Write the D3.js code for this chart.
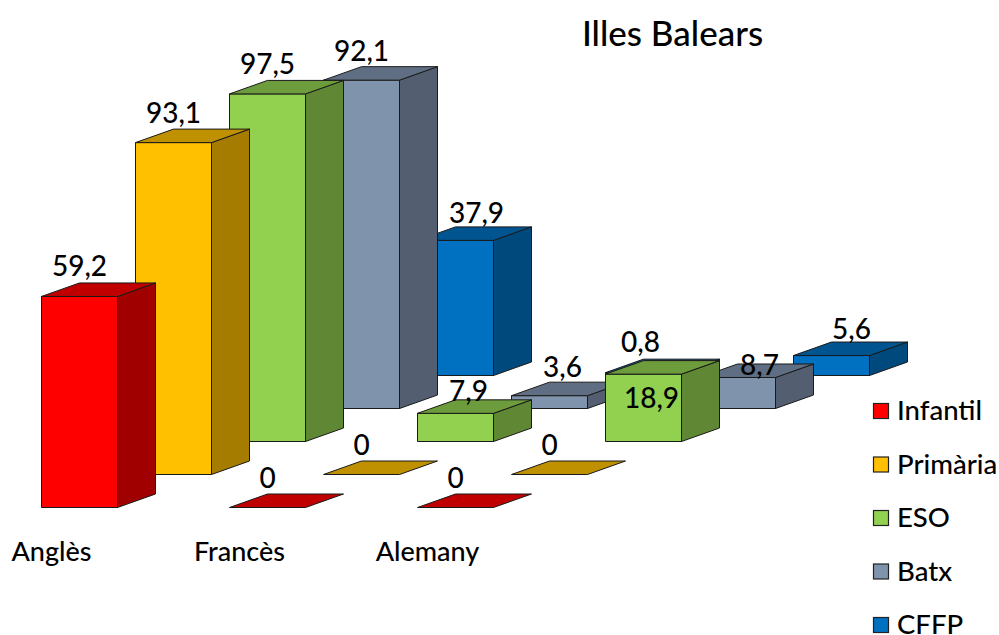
<!DOCTYPE html>
<html><head><meta charset="utf-8">
<script src="https://cdn.jsdelivr.net/npm/d3@7/dist/d3.min.js"></script>
<style>html,body{margin:0;padding:0;background:#fff}svg{display:block}text{font-family:Lato,"Noto Sans",sans-serif;fill:#000;font-weight:500}</style>
</head><body><svg id="c" width="999" height="635"></svg>
<script>
const categories = ["Anglès","Francès","Alemany"];
const seriesNames = ["Infantil","Primària","ESO","Batx","CFFP"];
const infantil = [59.2, 0, 0];
const primaria = [93.1, 0, 0];
const eso = [97.5, 7.9, 18.9];
const batx = [92.1, 3.6, 8.7];
const cffp = [37.9, 0.8, 5.6];
const seriesValues = [infantil, primaria, eso, batx, cffp];
const frontColors = ["#FF0000","#FFC000","#92D050","#8093AD","#0070C0"];
const topColors   = ["#C00000","#BF9000","#6D9C3C","#5F6E82","#005490"];
const sideColors  = ["#A00000","#A67C00","#5F8734","#535F71","#00497D"];

const svg = d3.select("#c");
const catX = d3.scalePoint().domain(categories).range([41.5,417.5]);
const serX = d3.scalePoint().domain(seriesNames).range([0,376]);
const serY = d3.scalePoint().domain(seriesNames).range([507.5,375.5]);
const h = d3.scaleLinear().domain([0,100]).range([0,356.5]);
const W = 76, DX = 38, DY = 13.5;
const fmt = v => String(v).replace(".",",");
const nudge = { // manual label placement [dx, dy] as in the source chart
  "Batx|Anglès":[0,1], "CFFP|Anglès":[21,2.5], "Batx|Francès":[13,1.5], "CFFP|Francès":[-3,-0.5],
  "ESO|Alemany":[8,54], "Batx|Alemany":[22,17.5], "CFFP|Alemany":[20,3.5], "ESO|Francès":[13,7.5]
};
const bars = [];
seriesNames.forEach((s,i)=>categories.forEach((c,j)=>{
  bars.push({s,c,i,v:seriesValues[i][j],x:catX(c)+serX(s),y0:serY(s)});
}));
const ordered = bars.slice().sort((a,b)=>d3.descending(a.i,b.i));
const pts = a => a.map(p=>p.join(",")).join(" ");
const g = svg.append("g").attr("stroke-linejoin","round");
ordered.forEach(b=>{
  const t = b.y0 - h(b.v), x=b.x, r=x+W;
  const bg = g.append("g").attr("stroke","#1a1a1a").attr("stroke-width",1);
  if(b.v>0){
    bg.append("rect").attr("x",x).attr("y",t).attr("width",W).attr("height",h(b.v)).attr("fill",frontColors[b.i]);
    bg.append("polygon").attr("points",pts([[r,t],[r+DX,t-DY],[r+DX,b.y0-DY],[r,b.y0]])).attr("fill",sideColors[b.i]);
  }
  bg.append("polygon").attr("points",pts([[x,t],[x+DX,t-DY],[r+DX,t-DY],[r,t]])).attr("fill",topColors[b.i]);
});
svg.append("g").selectAll("text").data(bars).join("text")
  .attr("text-anchor","middle").attr("font-size",28)
  .attr("x",b=>b.x+W/2+(nudge[b.s+"|"+b.c]||[0,0])[0])
  .attr("y",b=>b.y0-h(b.v)-DY-6.5+(nudge[b.s+"|"+b.c]||[0,0])[1])
  .text(b=>fmt(b.v));
svg.append("text").attr("x",672.5).attr("y",45.5).attr("text-anchor","middle").attr("font-size",35).text("Illes Balears");
const catLabelX = d3.scalePoint().domain(categories).range([51.5,427.5]);
svg.append("g").selectAll("text").data(categories).join("text")
  .attr("x",c=>catLabelX(c)).attr("y",561).attr("text-anchor","middle").attr("font-size",27)
  .text(c=>c);
const legY = d3.scalePoint().domain(seriesNames).range([411,625]);
const leg = svg.append("g").selectAll("g").data(seriesNames).join("g");
leg.append("rect").attr("x",873.5).attr("y",s=>legY(s)-7.5).attr("width",15).attr("height",15)
  .attr("fill",(s,i)=>frontColors[i]).attr("stroke","#222").attr("stroke-width",1.2);
leg.append("text").attr("x",897).attr("y",s=>legY(s)+9).attr("font-size",27.5).text(s=>s);
</script></body></html>
